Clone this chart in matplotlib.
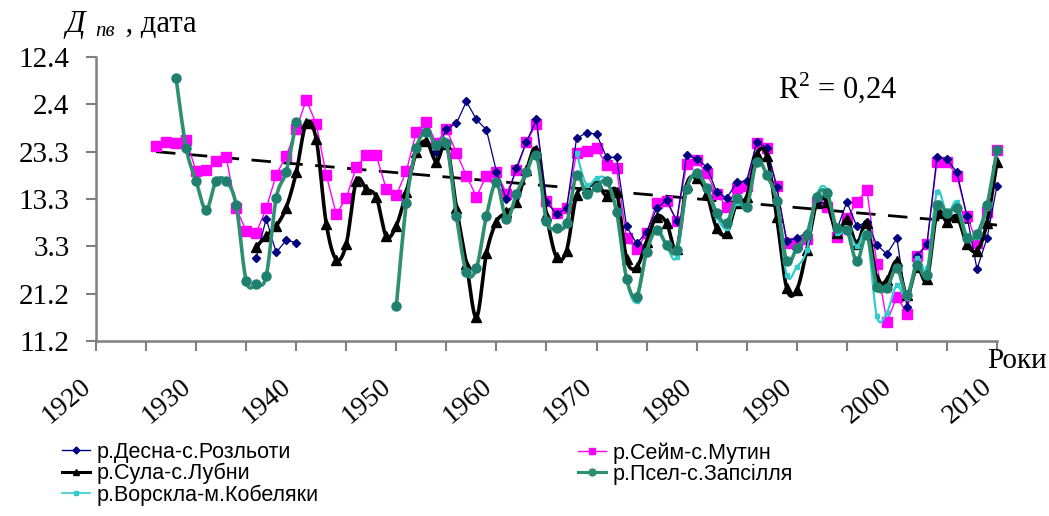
import numpy as np
import matplotlib.pyplot as plt
from matplotlib.lines import Line2D
from matplotlib.transforms import ScaledTranslation

nan = np.nan

# years 1926..2010, values = day of year of the date (42 = 11.2 ... 102 = 12.4)
years = np.arange(1926, 2011)

desna = ([nan] * 10 +
         [59.6, 67.8, 60.7, 63.3, 62.8] +
         [nan] * 13 +
         [82.0, 86.8, 88.0, 92.6, 88.8, 86.6, 77.8, 71.9, 78.6, 84.1,
          88.8, 71.4, 68.8, 70.0, 84.8, 86.0, 85.7, 80.8, 80.8, 66.2,
          62.6, 65.0, 70.0, 71.8, 67.4, 81.2, 80.5, 78.8, 73.5, 72.2,
          75.5, 75.9, 84.0, 82.8, 74.5, 63.2, 63.7, 64.9, 71.2, 71.2,
          65.5, 71.4, 66.2, 67.2, 62.3, 60.4, 63.7, 49.2, 60.0, 62.4,
          80.9, 80.4, 77.6, 68.4, 57.2, 63.7, 74.8])

seim = [83.2, 84.1, 83.8, 84.5, 77.9, 78.1, 80.1, 80.8, 70.0, 65.3,
        64.8, 70.0, 77.1, 81.1, 86.8, 92.9, 87.9, 77.1, 68.8, 72.2,
        78.8, 81.2, 81.2, 74.1, 72.8, 77.9, 86.2, 88.2, 83.8, 86.8,
        81.8, 76.9, 72.5, 76.9, 77.8, 73.1, 78.1, 84.1, 87.9, 71.6,
        69.0, 70.0, 81.8, 82.2, 82.7, 79.2, 78.5, 63.7, 61.4, 64.8,
        71.1, 71.5, 67.4, 79.4, 80.2, 77.4, 73.1, 70.4, 74.3, 74.8,
        83.9, 82.8, 74.8, 62.6, 62.4, 63.6, 71.4, 70.4, 63.9, 67.9,
        71.4, 73.9, 58.3, 46.0, 51.4, 47.8, 60.0, 62.4, 79.9, 79.9,
        76.9, 68.4, 62.8, 69.3, 82.4]

sula = ([nan] * 10 +
        [61.9, 64.2, 66.3, 70.2, 77.6, 88.0, 84.6, 66.8, 59.2, 62.5,
         75.8, 74.1, 72.4, 64.1, 66.4, 73.5, 81.9, 84.2, 79.9, 83.6,
         70.2, 58.3, 47.0, 60.5, 67.2, 69.2, 71.3, 78.1, 82.4, 68.6,
         59.7, 61.1, 72.8, 74.3, 75.3, 72.6, 73.5, 59.3, 57.6, 63.0,
         68.3, 66.9, 61.4, 75.0, 76.4, 73.2, 65.8, 64.8, 71.2, 72.5,
         81.5, 81.1, 68.1, 53.1, 52.8, 61.2, 71.2, 71.4, 64.8, 67.7,
         62.5, 67.0, 55.0, 54.9, 58.8, 51.7, 57.7, 55.0, 69.0, 67.2,
         68.3, 62.5, 61.1, 67.0, 79.9])

psel = ([nan] * 2 +
        [97.5, 82.8, 75.8, 69.7, 75.8, 75.8, 70.7, 54.7, 54.0, 55.7,
         72.2, 77.8, 88.3] +
        [nan] * 9 +
        [49.4, 71.1, 82.8, 86.2, 83.4, 83.9, 68.4, 56.6, 57.4, 68.4,
         75.5, 67.7, 73.1, 77.6, 81.2, 67.4, 65.8, 66.9, 77.1, 73.0,
         74.6, 75.7, 69.3, 55.2, 51.4, 60.9, 65.5, 62.3, 61.2, 74.1,
         77.4, 74.3, 69.1, 67.0, 72.2, 70.4, 79.9, 77.1, 71.6, 58.8,
         61.6, 64.4, 72.5, 73.3, 65.8, 65.5, 58.8, 64.4, 53.4, 53.3,
         57.4, 51.7, 58.1, 56.0, 70.7, 69.0, 70.0, 63.7, 64.6, 70.7,
         82.4])

vorskla = ([nan] * 42 +
           [81.7, 75.0, 76.4, 76.0, 69.0, 54.9, 50.4, 60.6, 65.3, 62.0,
            59.8, 73.8, 77.1, 74.0, 68.3, 65.8, 71.2, 70.4, 80.2, 77.1,
            71.2, 55.9, 57.7, 61.2, 72.8, 74.0, 64.8, 65.8, 62.0, 64.6,
            47.2, 48.0, 53.8, 51.0, 59.5, 57.4, 73.5, 68.9, 71.4, 64.4,
            64.0, 70.0, 82.1])

trend_years = [1926, 2010]
trend_vals = [82.0, 66.5]

ytick_vals = [42, 52, 62, 72, 82, 92, 102]
ytick_labels = ['11.2', '21.2', '3.3', '13.3', '23.3', '2.4', '12.4']
xtick_vals = list(range(1920, 2011, 5))
xtick_labels = [str(y) if y % 10 == 0 else '' for y in xtick_vals]

names = ['р.Десна-с.Розльоти', 'р.Сейм-с.Мутин', 'р.Сула-с.Лубни',
         'р.Псел-с.Запсілля', 'р.Ворскла-м.Кобеляки']


def smooth(x, y, n=16):
    # Excel-like smoothed line (Catmull-Rom), split at gaps
    x = np.asarray(x, float)
    y = np.asarray(y, float)
    ok = ~np.isnan(y)
    xs, ys = [], []
    i = 0
    while i < len(y):
        if not ok[i]:
            i += 1
            continue
        j = i
        while j < len(y) and ok[j]:
            j += 1
        px, py = x[i:j], y[i:j]
        if len(px) > 1:
            qx = np.concatenate([[px[0]], px, [px[-1]]])
            qy = np.concatenate([[py[0]], py, [py[-1]]])
            t = np.linspace(0, 1, n, endpoint=False)
            for k in range(1, len(qx) - 2):
                for q, out in ((qx, xs), (qy, ys)):
                    p0, p1, p2, p3 = q[k - 1], q[k], q[k + 1], q[k + 2]
                    c1 = p1 + (p2 - p0) / 6
                    c2 = p2 - (p3 - p1) / 6
                    out.extend((1 - t) ** 3 * p1 + 3 * (1 - t) ** 2 * t * c1
                               + 3 * (1 - t) * t ** 2 * c2 + t ** 3 * p2)
            xs.append(px[-1])
            ys.append(py[-1])
        xs.append(nan)
        ys.append(nan)
        i = j
    return np.array(xs), np.array(ys)


fig = plt.figure(figsize=(10.49, 5.16), dpi=100)
ax = fig.add_axes([96 / 1049, 1 - 341 / 516, 901 / 1049, 284 / 516])

serif = 'Liberation Serif'
sans = 'Liberation Sans'

c_desna = '#000080'
c_seim = '#ff00ff'
c_sula = '#000000'
c_psel = '#2e9070'
c_vorskla = '#33cccc'

ax.plot(trend_years, trend_vals, color='black', lw=2.0, dashes=(7, 4.5), zorder=1)

ax.plot(years, seim, color=c_seim, lw=1.0, marker='s', ms=7, mec=c_seim,
        clip_on=False, zorder=2)
ax.plot(years, desna, color=c_desna, lw=0.9, marker='D', ms=4.5, mec=c_desna,
        clip_on=False, zorder=3)

sx, sy = smooth(years, sula)
ax.plot(sx, sy, color=c_sula, lw=2.6, clip_on=False, zorder=4)
ax.plot(years, sula, ls='none', marker='^', ms=6.5, color=c_sula, clip_on=False, zorder=4)

vx, vy = smooth(years, vorskla)
ax.plot(vx, vy, color=c_vorskla, lw=1.6, clip_on=False, zorder=5)
ax.plot(years, vorskla, ls='none', marker='s', ms=3, color=c_vorskla, clip_on=False, zorder=5)

px_, py_ = smooth(years, psel)
ax.plot(px_, py_, color=c_psel, lw=2.6, clip_on=False, zorder=6)
ax.plot(years, psel, ls='none', marker='o', ms=6.5, color='#1f8070', clip_on=False, zorder=6)

ax.set_xlim(1920, 2010)
ax.set_ylim(42, 102)
ax.set_yticks(ytick_vals)
ax.set_yticklabels(ytick_labels, fontfamily=serif, fontsize=21)
ax.set_xticks(xtick_vals)
ax.set_xticklabels(xtick_labels, fontfamily=serif, fontsize=20,
                   rotation=40, ha='right')
for lab in ax.get_xticklabels():
    lab.set_transform(lab.get_transform() + ScaledTranslation(-0.12, 0, fig.dpi_scale_trans))

for s in ['top', 'right']:
    ax.spines[s].set_visible(False)
for s in ['left', 'bottom']:
    ax.spines[s].set_color('#808080')
    ax.spines[s].set_linewidth(1.8)
ax.tick_params(axis='both', direction='out', length=7, width=1.5, color='#808080')
ax.tick_params(axis='y', pad=12)
ax.tick_params(axis='x', pad=17)

# axis titles
fig.text(65 / 1049, 1 - 32 / 516, 'Д', fontfamily=serif, fontsize=22, style='italic')
fig.text(95 / 1049, 1 - 36 / 516, 'пв', fontfamily=serif, fontsize=15, style='italic')
fig.text(118 / 1049, 1 - 32 / 516, ' , дата', fontfamily=serif, fontsize=22)
fig.text(1047 / 1049, 1 - 368 / 516, 'Роки', fontfamily=serif, fontsize=21, ha='right')
fig.text(778 / 1049, 1 - 98 / 516, r'R$^{\mathregular{2}}$ = 0,24', fontfamily=serif, fontsize=22)

# legend
def handle(color, marker, ms, lw):
    return Line2D([], [], color=color, marker=marker, ms=ms, lw=lw)

h_desna = handle(c_desna, 'D', 3.5, 1.0)
h_seim = handle(c_seim, 's', 4, 1.0)
h_sula = handle(c_sula, '^', 5, 2.2)
h_psel = handle(c_psel, 'o', 5, 2.2)
h_vorskla = handle(c_vorskla, 's', 2.5, 1.2)

kw = dict(loc='upper left', frameon=False, borderaxespad=0, borderpad=0,
          handlelength=1.3, handletextpad=0.3, labelspacing=0.0,
          prop={'family': sans, 'size': 15.5})
fig.legend([h_desna, h_sula, h_vorskla], [names[0], names[2], names[4]],
           bbox_to_anchor=(62 / 1049, 1 - 442 / 516), **kw)
fig.legend([h_seim, h_psel], [names[1], names[3]],
           bbox_to_anchor=(578 / 1049, 1 - 442 / 516), **kw)

fig.savefig('out.png', dpi=100)
